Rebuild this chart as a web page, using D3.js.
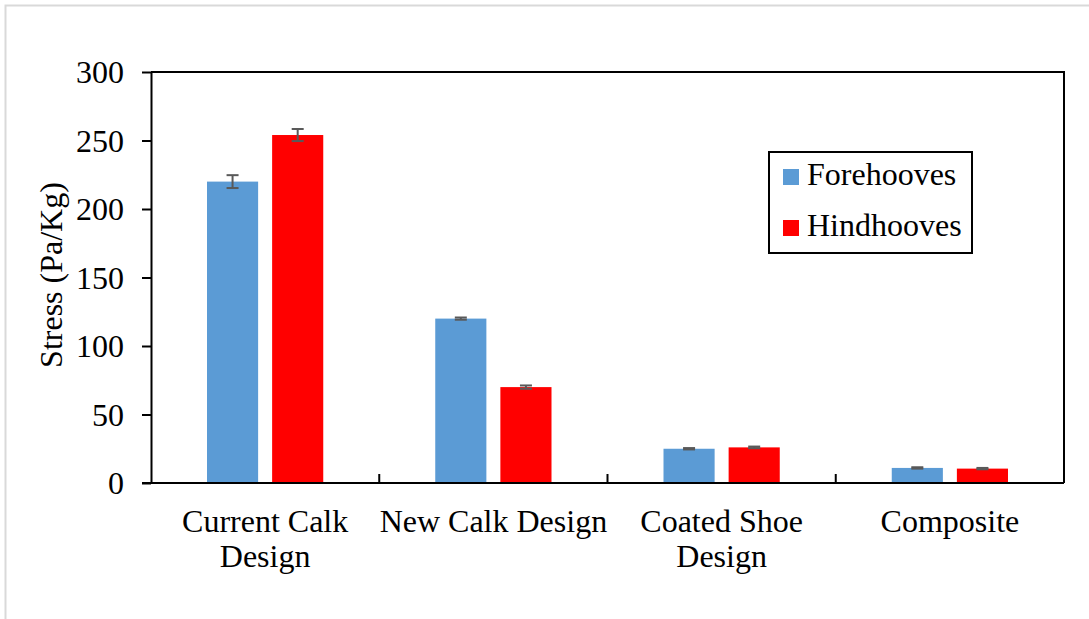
<!DOCTYPE html>
<html>
<head>
<meta charset="utf-8">
<script src="https://cdn.jsdelivr.net/npm/d3@7"></script>
<style>
  body { margin: 0; background: #fff; }
</style>
</head>
<body>
<svg width="1089" height="619"></svg>
<script>
// data
const categories = [["Current Calk", "Design"], ["New Calk Design"], ["Coated Shoe", "Design"], ["Composite"]];
const seriesNames = ["Forehooves", "Hindhooves"];
const foreValues = [220, 120, 25, 11];
const foreErrors = [4.7, 0.8, 0.5, 0.5];
const hindValues = [254, 70, 26, 10.5];
const hindErrors = [4.4, 1.2, 0.6, 0.5];
const yTicks = [0, 50, 100, 150, 200, 250, 300];

const colors = ["#5b9bd5", "#ff0000"];
const serif = "'Liberation Serif', 'Times New Roman', serif";

const svg = d3.select("svg");

// outer light frame
svg.append("rect")
    .attr("x", 5.5).attr("y", 5.5)
    .attr("width", 1200).attr("height", 700)
    .attr("fill", "none")
    .attr("stroke", "#d9d9d9")
    .attr("stroke-width", 2);

const margin = { top: 72, right: 25, bottom: 136, left: 151 };
const width = 1089 - margin.left - margin.right;
const height = 619 - margin.top - margin.bottom;

const g = svg.append("g")
    .attr("transform", `translate(${margin.left},${margin.top})`);

const xScale = d3.scaleBand()
    .domain(d3.range(categories.length))
    .range([0, width]);

const xInner = d3.scaleBand()
    .domain(seriesNames)
    .range([56, xScale.bandwidth() - 56])
    .paddingInner(0.215);

const yScale = d3.scaleLinear()
    .domain([0, 300])
    .range([height, 0]);

const data = [];
categories.forEach((c, i) => {
    data.push({ cat: i, s: seriesNames[0], v: foreValues[i], e: foreErrors[i] });
    data.push({ cat: i, s: seriesNames[1], v: hindValues[i], e: hindErrors[i] });
});

// bars
g.selectAll("rect.bar")
    .data(data)
    .enter()
    .append("rect")
    .attr("class", "bar")
    .attr("x", d => xScale(d.cat) + xInner(d.s))
    .attr("y", d => yScale(d.v))
    .attr("width", xInner.bandwidth())
    .attr("height", d => height - yScale(d.v))
    .attr("fill", d => colors[seriesNames.indexOf(d.s)]);

// error bars
const eg = g.selectAll("g.err")
    .data(data)
    .enter()
    .append("g")
    .attr("class", "err")
    .attr("transform", d => `translate(${xScale(d.cat) + xInner(d.s) + xInner.bandwidth() / 2},0)`)
    .attr("stroke", "#595959")
    .attr("stroke-width", 2);
eg.append("line")
    .attr("y1", d => yScale(d.v + d.e))
    .attr("y2", d => yScale(d.v - d.e));
eg.append("line")
    .attr("x1", -6).attr("x2", 6)
    .attr("y1", d => yScale(d.v + d.e))
    .attr("y2", d => yScale(d.v + d.e));
eg.append("line")
    .attr("x1", -6).attr("x2", 6)
    .attr("y1", d => yScale(d.v - d.e))
    .attr("y2", d => yScale(d.v - d.e));

// plot frame (top and right)
g.append("path")
    .attr("d", `M0,0H${width}V${height}`)
    .attr("fill", "none")
    .attr("stroke", "#000")
    .attr("stroke-width", 2);

// y axis
const yAxis = g.append("g")
    .call(d3.axisLeft(yScale).tickValues(yTicks).tickSize(9).tickPadding(18).tickSizeOuter(0));
yAxis.select(".domain").attr("stroke-width", 2);
yAxis.selectAll(".tick line").attr("stroke-width", 2);
yAxis.selectAll("text")
    .attr("dy", "0.34em")
    .style("font-size", "32px")
    .style("font-family", serif);

// x axis: category boundaries ticks pointing up
const xAxis = g.append("g")
    .attr("transform", `translate(0,${height})`);
xAxis.append("line")
    .attr("x1", -9).attr("x2", width)
    .attr("stroke", "#000").attr("stroke-width", 2);
xAxis.selectAll("line.sep")
    .data(d3.range(1, categories.length))
    .enter()
    .append("line")
    .attr("class", "sep")
    .attr("x1", d => xScale(d)).attr("x2", d => xScale(d))
    .attr("y1", 0).attr("y2", -9)
    .attr("stroke", "#000").attr("stroke-width", 2);

const labels = xAxis.selectAll("text.cat")
    .data(categories)
    .enter()
    .append("text")
    .attr("class", "cat")
    .attr("text-anchor", "middle")
    .attr("transform", (d, i) => `translate(${xScale(i) + xScale.bandwidth() / 2},0)`)
    .style("font-size", "32px")
    .style("font-family", serif);
labels.selectAll("tspan")
    .data(d => d)
    .enter()
    .append("tspan")
    .attr("x", 0)
    .attr("y", (d, i) => 49 + i * 35)
    .text(d => d);

// y axis title
svg.append("text")
    .attr("transform", "translate(62,275) rotate(-90)")
    .attr("text-anchor", "middle")
    .style("font-size", "32px")
    .style("font-family", serif)
    .text("Stress (Pa/Kg)");

// legend
const legend = svg.append("g").attr("transform", "translate(769,152)");
legend.append("rect")
    .attr("width", 203).attr("height", 101)
    .attr("fill", "#fff")
    .attr("stroke", "#000")
    .attr("stroke-width", 2);
const items = legend.selectAll("g.item")
    .data(seriesNames)
    .enter()
    .append("g")
    .attr("transform", (d, i) => `translate(14,${17 + i * 51})`);
items.append("rect")
    .attr("width", 16).attr("height", 16)
    .attr("fill", (d, i) => colors[i]);
items.append("text")
    .attr("x", 24)
    .attr("y", 16)
    .style("font-size", "32px")
    .style("font-family", serif)
    .text(d => d);
</script>
</body>
</html>
